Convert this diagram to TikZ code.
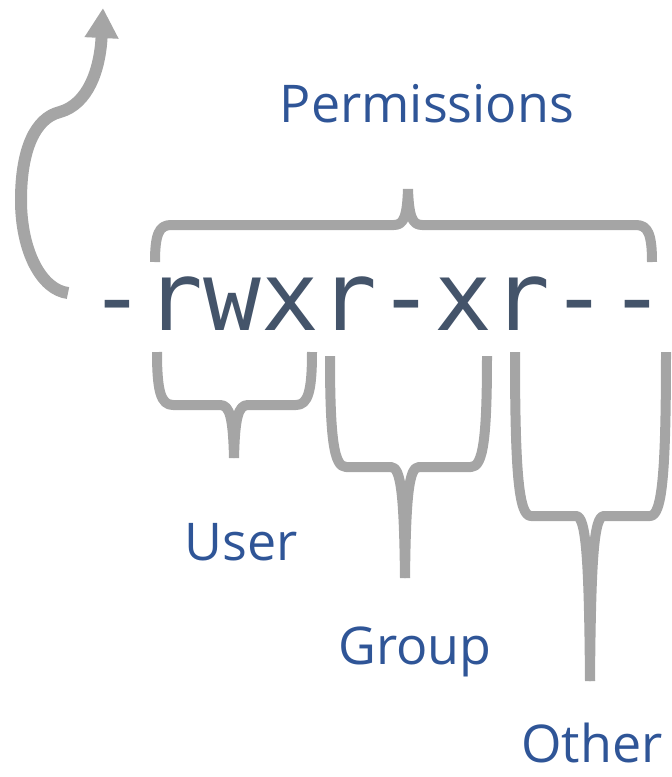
\documentclass[tikz,border=0pt]{standalone}
\usepackage{fontspec}
\setmainfont{Open Sans}
\newfontfamily\permmono{DejaVu Sans Mono}
\usepackage{tikz}
\usetikzlibrary{arrows.meta,positioning}
\definecolor{bracegray}{HTML}{A5A5A5}
\definecolor{permslate}{HTML}{44546A}
\definecolor{labelblue}{HTML}{2F5597}

% left x, right x, leg end, bar, middle x, tip
\newcommand{\permbrace}[6]{%
  \draw[brace line] (#1,#3) .. controls (#1,{#3+0.75*(#4-#3)}) and ({#1+4},#4) .. ({#1+16},#4)
    -- ({#5-14},#4) .. controls ({#5-4},#4) and ({#5-1},{#4+0.25*(#6-#4)}) .. (#5,#6);
  \draw[brace line] (#2,#3) .. controls (#2,{#3+0.75*(#4-#3)}) and ({#2-4},#4) .. ({#2-16},#4)
    -- ({#5+14},#4) .. controls ({#5+4},#4) and ({#5+1},{#4+0.25*(#6-#4)}) .. (#5,#6);
}

\begin{document}
\begin{tikzpicture}[
  x=1pt, y=-1pt,
  brace line/.style={draw=bracegray, line width=10pt, line join=round},
  perm text/.style={font=\permmono\fontsize{96}{96}\selectfont, text=permslate, inner sep=0pt, anchor=base west},
  part label/.style={font=\fontsize{52}{52}\selectfont, text=labelblue, inner sep=0pt, anchor=base},
  arrow/.style={-{Triangle[length=30pt,width=32pt]}, draw=bracegray, line width=12pt}
]
  \useasboundingbox (0,0) rectangle (672,777);
  \node[perm text] (perm) at (88,330) {-rwxr-xr--};
  \coordinate (arrowstart) at (68,293);
  \coordinate (arrowtip) at (103,8);
  \draw[arrow] (arrowstart) .. controls (42,290) and (21,252) .. (21,200)
    .. controls (21,150) and (35,118) .. (60,112)
    .. controls (88,104) and (100,70) .. (arrowtip);
  \permbrace{155}{652}{262}{225}{408}{189}
  \permbrace{157}{312}{352}{405}{234}{458}
  \permbrace{330}{487}{356}{467}{405}{578}
  \permbrace{515}{666}{352}{516}{590}{681}
  \node[part label] (permissions) at (427,122) {Permissions};
  \node[part label] (user) at (241,560) {User};
  \node[part label] (group) at (415,664) {Group};
  \node[part label] (other) at (592,762) {Other};
\end{tikzpicture}
\end{document}
